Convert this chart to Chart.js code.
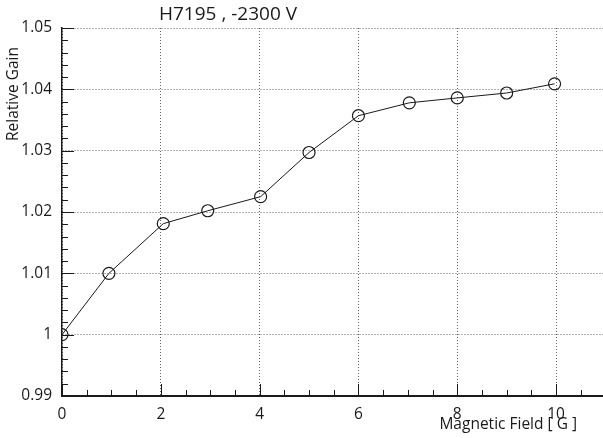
<!DOCTYPE html>
<html>
<head>
<meta charset="utf-8">
<script src="https://cdn.jsdelivr.net/npm/chart.js@4/dist/chart.umd.min.js"></script>
<style>
  html, body { margin: 0; padding: 0; background: #fff; }
  #wrap { width: 603px; height: 438px; }
</style>
</head>
<body>
<div id="wrap"><canvas id="gain" width="603" height="438"></canvas></div>
<script>
const fieldValues = [0, 0.95, 2.05, 2.95, 4.02, 5, 6, 7.03, 8, 9, 9.97];
const gainValues = [1.0, 1.0100, 1.0181, 1.0202, 1.0225, 1.0297, 1.0357, 1.0378, 1.0386, 1.0394, 1.0409];
const xTickLabels = ['0', '2', '4', '6', '8', '10'];
const yTickLabels = ['0.99', '1', '1.01', '1.02', '1.03', '1.04', '1.05'];

const titleText = 'H7195 , -2300 V';
const xTitle = 'Magnetic Field [ G ]';
const yTitle = 'Relative Gain';

const FONT = '"Open Sans", "Liberation Sans", sans-serif';
const INK = '#1a1a1a';

// ticks are drawn inside the frame, the way the analysis plots look
const innerTicks = {
    id: 'innerTicks',
    afterDraw(chart) {
        const ctx = chart.ctx;
        const area = chart.chartArea;
        const xs = chart.scales.x;
        const ys = chart.scales.y;
        ctx.save();
        ctx.strokeStyle = INK;
        ctx.lineWidth = 1;
        ctx.beginPath();
        for (let v = 0; v <= xs.max + 1e-9; v += 0.5) {
            const px = Math.round(xs.getPixelForValue(v)) + 0.5;
            const len = (Math.abs(v / 2 - Math.round(v / 2)) < 1e-6) ? 12 : 6;
            ctx.moveTo(px, area.bottom);
            ctx.lineTo(px, area.bottom - len);
        }
        for (let i = 0; i <= 30; i++) {
            const v = ys.min + i * 0.002;
            const py = Math.round(ys.getPixelForValue(v)) + 0.5;
            const len = (i % 5 === 0) ? 12 : 6;
            ctx.moveTo(area.left, py);
            ctx.lineTo(area.left + len, py);
        }
        ctx.stroke();

        ctx.fillStyle = INK;
        ctx.font = '19px ' + FONT;
        ctx.textAlign = 'left';
        ctx.textBaseline = 'middle';
        ctx.fillText(titleText, 159, 15);

        ctx.font = '15.5px ' + FONT;
        ctx.textAlign = 'right';
        ctx.fillText(xTitle, 577, 425);

        ctx.translate(14, 47);
        ctx.rotate(-Math.PI / 2);
        ctx.textAlign = 'right';
        ctx.fillText(yTitle, 0, 0);
        ctx.restore();
    }
};

new Chart(document.getElementById('gain'), {
    type: 'line',
    data: {
        datasets: [{
            data: fieldValues.map((x, i) => ({ x: x, y: gainValues[i] })),
            borderColor: INK,
            borderWidth: 1,
            tension: 0,
            fill: false,
            pointStyle: 'circle',
            pointRadius: 6,
            pointBorderWidth: 1.2,
            pointBorderColor: INK,
            pointBackgroundColor: 'rgba(0,0,0,0)'
        }]
    },
    options: {
        responsive: false,
        devicePixelRatio: 1,
        animation: false,
        layout: { autoPadding: false, padding: { top: 28, right: 0, left: 0, bottom: 0 } },
        plugins: {
            legend: { display: false },
            tooltip: { enabled: false },
            title: { display: false }
        },
        scales: {
            x: {
                type: 'linear',
                min: 0,
                max: 10.95,
                afterFit(scale) { scale.height = 42; },
                ticks: {
                    stepSize: 2,
                    includeBounds: false,
                    padding: 9,
                    color: INK,
                    font: { family: FONT, size: 15.5 },
                    callback: (v) => xTickLabels[Math.round(v / 2)]
                },
                grid: {
                    drawTicks: false,
                    color: '#666',
                    lineWidth: 1
                },
                border: { color: INK, width: 2, dash: [1, 2] }
            },
            y: {
                type: 'linear',
                min: 0.99,
                max: 1.05,
                afterFit(scale) { scale.width = 62; },
                ticks: {
                    stepSize: 0.01,
                    padding: 10,
                    color: INK,
                    font: { family: FONT, size: 15.5 },
                    callback: (v) => yTickLabels[Math.round((v - 0.99) / 0.01)]
                },
                grid: {
                    drawTicks: false,
                    color: '#666',
                    lineWidth: 1
                },
                border: { color: INK, width: 1.5, dash: [1, 2] }
            }
        }
    },
    plugins: [innerTicks]
});
</script>
</body>
</html>
